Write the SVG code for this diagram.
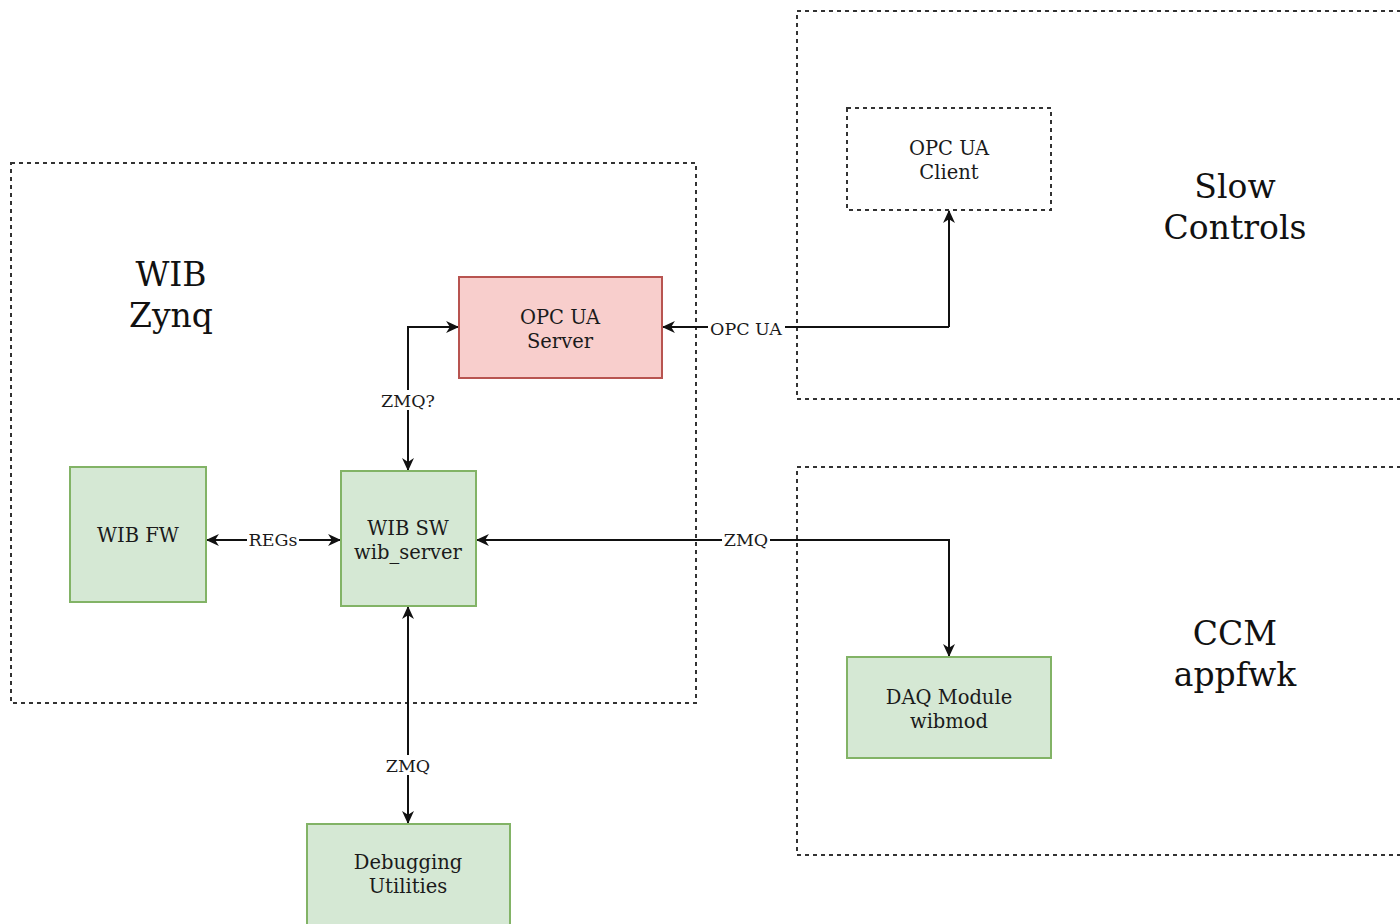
<svg xmlns="http://www.w3.org/2000/svg" width="1400" height="924" viewBox="0 0 1400 924">
<style>
.grp{fill:none;stroke:#333;stroke-width:2;stroke-dasharray:4 4}
.green{fill:#d5e8d4;stroke:#82b366;stroke-width:2}
.red{fill:#f8cecc;stroke:#b85450;stroke-width:2}
.client{fill:#fff;stroke:#333;stroke-width:2;stroke-dasharray:4 4}
.t{font-family:"DejaVu Serif",serif;font-size:19.5px;fill:#1a1a1a;text-anchor:middle}
.big{font-family:"DejaVu Serif",serif;font-size:33px;fill:#111;text-anchor:middle}
.lbl{font-family:"DejaVu Serif",serif;font-size:17.5px;fill:#1a1a1a;text-anchor:middle}
.edge{fill:none;stroke:#111;stroke-width:2}
.lblbg{fill:#fff}
</style>
<defs>
<marker id="ah" viewBox="0 0 12 12" refX="11" refY="6" markerWidth="13" markerHeight="13" orient="auto-start-reverse" markerUnits="userSpaceOnUse">
<path d="M0,0.5 L12,6 L0,11.5 L3.5,6 Z" fill="#111"/>
</marker>
</defs>
<rect width="1400" height="924" fill="#fff"/>
<g id="groups">
<g id="wib-zynq"><rect class="grp" x="11" y="163" width="685" height="540"/><text class="big" x="171" y="286">WIB</text><text class="big" x="171" y="327">Zynq</text></g>
<g id="slow-controls"><rect class="grp" x="797" y="11" width="620" height="388"/><text class="big" x="1235" y="198">Slow</text><text class="big" x="1235" y="239">Controls</text></g>
<g id="ccm"><rect class="grp" x="797" y="467" width="620" height="388"/><text class="big" x="1235" y="645">CCM</text><text class="big" x="1235" y="686">appfwk</text></g>
</g>
<g id="connectors">
<path class="edge" d="M949,327 L949,211" marker-end="url(#ah)"/>
<path class="edge" d="M949,327 L663,327" marker-end="url(#ah)"/>
<path class="edge" d="M408,470 L408,327 L458,327" marker-start="url(#ah)" marker-end="url(#ah)"/>
<path class="edge" d="M207,540 L340,540" marker-start="url(#ah)" marker-end="url(#ah)"/>
<path class="edge" d="M477,540 L949,540 L949,656" marker-start="url(#ah)" marker-end="url(#ah)"/>
<path class="edge" d="M408,607 L408,823" marker-start="url(#ah)" marker-end="url(#ah)"/>
<rect class="lblbg" x="708" y="318" width="77" height="20"/><text class="lbl" x="746" y="335">OPC UA</text>
<rect class="lblbg" x="379" y="390" width="58" height="20"/><text class="lbl" x="408" y="407">ZMQ?</text>
<rect class="lblbg" x="247" y="530" width="52" height="20"/><text class="lbl" x="273" y="546">REGs</text>
<rect class="lblbg" x="722" y="530" width="48" height="20"/><text class="lbl" x="746" y="546">ZMQ</text>
<rect class="lblbg" x="384" y="755" width="48" height="20"/><text class="lbl" x="408" y="772">ZMQ</text>
</g>
<g id="opc-ua-client"><rect class="client" x="847" y="108" width="204" height="102"/><text class="t" x="949" y="155">OPC UA</text><text class="t" x="949" y="179">Client</text></g>
<g id="opc-ua-server"><rect class="red" x="459" y="277" width="203" height="101"/><text class="t" x="560" y="324">OPC UA</text><text class="t" x="560" y="348">Server</text></g>
<g id="wib-fw"><rect class="green" x="70" y="467" width="136" height="135"/><text class="t" x="138" y="542">WIB FW</text></g>
<g id="wib-sw"><rect class="green" x="341" y="471" width="135" height="135"/><text class="t" x="408" y="535">WIB SW</text><text class="t" x="408" y="559">wib_server</text></g>
<g id="debugging"><rect class="green" x="307" y="824" width="203" height="110"/><text class="t" x="408" y="869">Debugging</text><text class="t" x="408" y="893">Utilities</text></g>
<g id="daq-module"><rect class="green" x="847" y="657" width="204" height="101"/><text class="t" x="949" y="704">DAQ Module</text><text class="t" x="949" y="728">wibmod</text></g>
</svg>
